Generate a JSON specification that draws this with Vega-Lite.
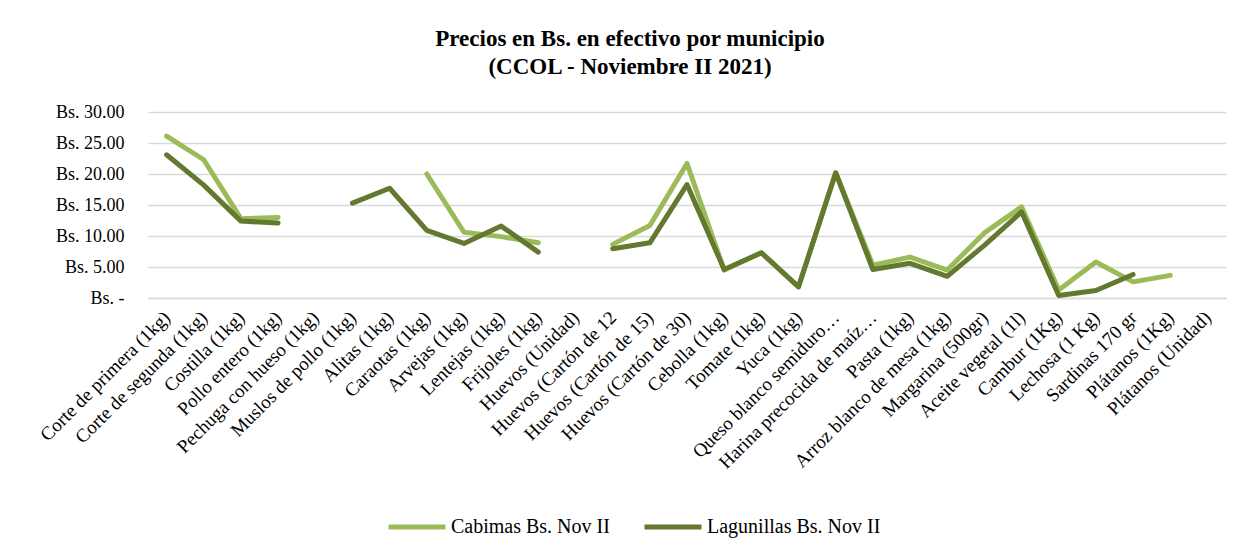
{
  "$schema": "https://vega.github.io/schema/vega-lite/v6.json",
  "autosize": "none",
  "width": 1078,
  "height": 186,
  "padding": {"left": 148, "top": 112, "right": 26, "bottom": 261},
  "background": "white",
  "title": {
    "text": ["Precios en Bs. en efectivo por municipio", "(CCOL - Noviembre II 2021)"],
    "font": "Liberation Serif",
    "fontSize": 23,
    "fontWeight": "bold",
    "lineHeight": 28,
    "color": "#000000",
    "anchor": "middle",
    "dx": -57,
    "offset": 24
  },
  "data": {
    "values": [
      {"producto": "Corte de primera (1kg)", "serie": "Cabimas Bs. Nov II", "valor": 26.1},
      {"producto": "Corte de segunda (1kg)", "serie": "Cabimas Bs. Nov II", "valor": 22.3},
      {"producto": "Costilla (1kg)", "serie": "Cabimas Bs. Nov II", "valor": 12.8},
      {"producto": "Pollo entero (1kg)", "serie": "Cabimas Bs. Nov II", "valor": 13.0},
      {"producto": "Pechuga con hueso (1kg)", "serie": "Cabimas Bs. Nov II", "valor": null},
      {"producto": "Muslos de pollo (1kg)", "serie": "Cabimas Bs. Nov II", "valor": null},
      {"producto": "Alitas (1kg)", "serie": "Cabimas Bs. Nov II", "valor": null},
      {"producto": "Caraotas (1kg)", "serie": "Cabimas Bs. Nov II", "valor": 20.0},
      {"producto": "Arvejas (1kg)", "serie": "Cabimas Bs. Nov II", "valor": 10.6},
      {"producto": "Lentejas (1kg)", "serie": "Cabimas Bs. Nov II", "valor": 9.9},
      {"producto": "Frijoles (1kg)", "serie": "Cabimas Bs. Nov II", "valor": 8.9},
      {"producto": "Huevos (Unidad)", "serie": "Cabimas Bs. Nov II", "valor": null},
      {"producto": "Huevos (Cartón de 12", "serie": "Cabimas Bs. Nov II", "valor": 8.65},
      {"producto": "Huevos (Cartón de 15)", "serie": "Cabimas Bs. Nov II", "valor": 11.7},
      {"producto": "Huevos (Cartón de 30)", "serie": "Cabimas Bs. Nov II", "valor": 21.7},
      {"producto": "Cebolla (1kg)", "serie": "Cabimas Bs. Nov II", "valor": 4.5},
      {"producto": "Tomate (1kg)", "serie": "Cabimas Bs. Nov II", "valor": 7.3},
      {"producto": "Yuca (1kg)", "serie": "Cabimas Bs. Nov II", "valor": 1.8},
      {"producto": "Queso blanco semiduro…", "serie": "Cabimas Bs. Nov II", "valor": 20.2},
      {"producto": "Harina precocida de maíz…", "serie": "Cabimas Bs. Nov II", "valor": 5.3},
      {"producto": "Pasta (1kg)", "serie": "Cabimas Bs. Nov II", "valor": 6.6},
      {"producto": "Arroz blanco de mesa (1kg)", "serie": "Cabimas Bs. Nov II", "valor": 4.5},
      {"producto": "Margarina (500gr)", "serie": "Cabimas Bs. Nov II", "valor": 10.5},
      {"producto": "Aceite vegetal (1l)", "serie": "Cabimas Bs. Nov II", "valor": 14.7},
      {"producto": "Cambur (1Kg)", "serie": "Cabimas Bs. Nov II", "valor": 1.3},
      {"producto": "Lechosa (1 Kg)", "serie": "Cabimas Bs. Nov II", "valor": 5.8},
      {"producto": "Sardinas 170 gr", "serie": "Cabimas Bs. Nov II", "valor": 2.6},
      {"producto": "Plátanos (1Kg)", "serie": "Cabimas Bs. Nov II", "valor": 3.65},
      {"producto": "Plátanos (Unidad)", "serie": "Cabimas Bs. Nov II", "valor": null},
      {"producto": "Corte de primera (1kg)", "serie": "Lagunillas Bs. Nov II", "valor": 23.1},
      {"producto": "Corte de segunda (1kg)", "serie": "Lagunillas Bs. Nov II", "valor": 18.2},
      {"producto": "Costilla (1kg)", "serie": "Lagunillas Bs. Nov II", "valor": 12.4},
      {"producto": "Pollo entero (1kg)", "serie": "Lagunillas Bs. Nov II", "valor": 12.1},
      {"producto": "Pechuga con hueso (1kg)", "serie": "Lagunillas Bs. Nov II", "valor": null},
      {"producto": "Muslos de pollo (1kg)", "serie": "Lagunillas Bs. Nov II", "valor": 15.3},
      {"producto": "Alitas (1kg)", "serie": "Lagunillas Bs. Nov II", "valor": 17.7},
      {"producto": "Caraotas (1kg)", "serie": "Lagunillas Bs. Nov II", "valor": 10.9},
      {"producto": "Arvejas (1kg)", "serie": "Lagunillas Bs. Nov II", "valor": 8.8},
      {"producto": "Lentejas (1kg)", "serie": "Lagunillas Bs. Nov II", "valor": 11.6},
      {"producto": "Frijoles (1kg)", "serie": "Lagunillas Bs. Nov II", "valor": 7.4},
      {"producto": "Huevos (Unidad)", "serie": "Lagunillas Bs. Nov II", "valor": null},
      {"producto": "Huevos (Cartón de 12", "serie": "Lagunillas Bs. Nov II", "valor": 7.95},
      {"producto": "Huevos (Cartón de 15)", "serie": "Lagunillas Bs. Nov II", "valor": 8.9},
      {"producto": "Huevos (Cartón de 30)", "serie": "Lagunillas Bs. Nov II", "valor": 18.3},
      {"producto": "Cebolla (1kg)", "serie": "Lagunillas Bs. Nov II", "valor": 4.6},
      {"producto": "Tomate (1kg)", "serie": "Lagunillas Bs. Nov II", "valor": 7.3},
      {"producto": "Yuca (1kg)", "serie": "Lagunillas Bs. Nov II", "valor": 1.8},
      {"producto": "Queso blanco semiduro…", "serie": "Lagunillas Bs. Nov II", "valor": 20.2},
      {"producto": "Harina precocida de maíz…", "serie": "Lagunillas Bs. Nov II", "valor": 4.6},
      {"producto": "Pasta (1kg)", "serie": "Lagunillas Bs. Nov II", "valor": 5.6},
      {"producto": "Arroz blanco de mesa (1kg)", "serie": "Lagunillas Bs. Nov II", "valor": 3.5},
      {"producto": "Margarina (500gr)", "serie": "Lagunillas Bs. Nov II", "valor": 8.5},
      {"producto": "Aceite vegetal (1l)", "serie": "Lagunillas Bs. Nov II", "valor": 13.9},
      {"producto": "Cambur (1Kg)", "serie": "Lagunillas Bs. Nov II", "valor": 0.4},
      {"producto": "Lechosa (1 Kg)", "serie": "Lagunillas Bs. Nov II", "valor": 1.2},
      {"producto": "Sardinas 170 gr", "serie": "Lagunillas Bs. Nov II", "valor": 3.8},
      {"producto": "Plátanos (1Kg)", "serie": "Lagunillas Bs. Nov II", "valor": null},
      {"producto": "Plátanos (Unidad)", "serie": "Lagunillas Bs. Nov II", "valor": null}
    ]
  },
  "mark": {
    "type": "line",
    "strokeWidth": 5,
    "strokeCap": "round",
    "strokeJoin": "round",
    "invalid": "break-paths-show-domains"
  },
  "encoding": {
    "x": {
      "field": "producto",
      "type": "nominal",
      "sort": null,
      "scale": {"type": "point", "padding": 0.5},
      "axis": {
        "title": null,
        "labelAngle": -45,
        "labelAlign": "right",
        "labelBaseline": "middle",
        "labelFont": "Liberation Serif",
        "labelFontSize": 19,
        "labelColor": "#000000",
        "labelPadding": 16,
        "labelLimit": 300,
        "labelOverlap": false,
        "ticks": false,
        "domain": true,
        "domainColor": "#d9d9d9",
        "domainWidth": 1.5,
        "grid": false
      }
    },
    "y": {
      "field": "valor",
      "type": "quantitative",
      "scale": {"domain": [0, 30], "nice": false},
      "axis": {
        "title": null,
        "values": [0, 5, 10, 15, 20, 25, 30],
        "labelExpr": "datum.value == 0 ? 'Bs. -' : 'Bs. ' + format(datum.value, '.2f')",
        "labelFont": "Liberation Serif",
        "labelFontSize": 18,
        "labelColor": "#000000",
        "labelPadding": 24,
        "ticks": false,
        "domain": false,
        "grid": true,
        "gridColor": "#d9d9d9",
        "gridWidth": 1.5
      }
    },
    "color": {
      "field": "serie",
      "type": "nominal",
      "scale": {
        "domain": ["Cabimas Bs. Nov II", "Lagunillas Bs. Nov II"],
        "range": ["#9bbb59", "#62792f"]
      },
      "legend": {
        "title": null,
        "orient": "none",
        "direction": "horizontal",
        "legendX": 238,
        "legendY": 384,
        "symbolType": "stroke",
        "symbolSize": 3249,
        "symbolStrokeWidth": 5,
        "labelFont": "Liberation Serif",
        "labelFontSize": 20,
        "labelColor": "#000000",
        "labelOffset": 3,
        "columnPadding": 24,
        "labelLimit": 300
      }
    }
  },
  "config": {
    "view": {"stroke": null}
  }
}
